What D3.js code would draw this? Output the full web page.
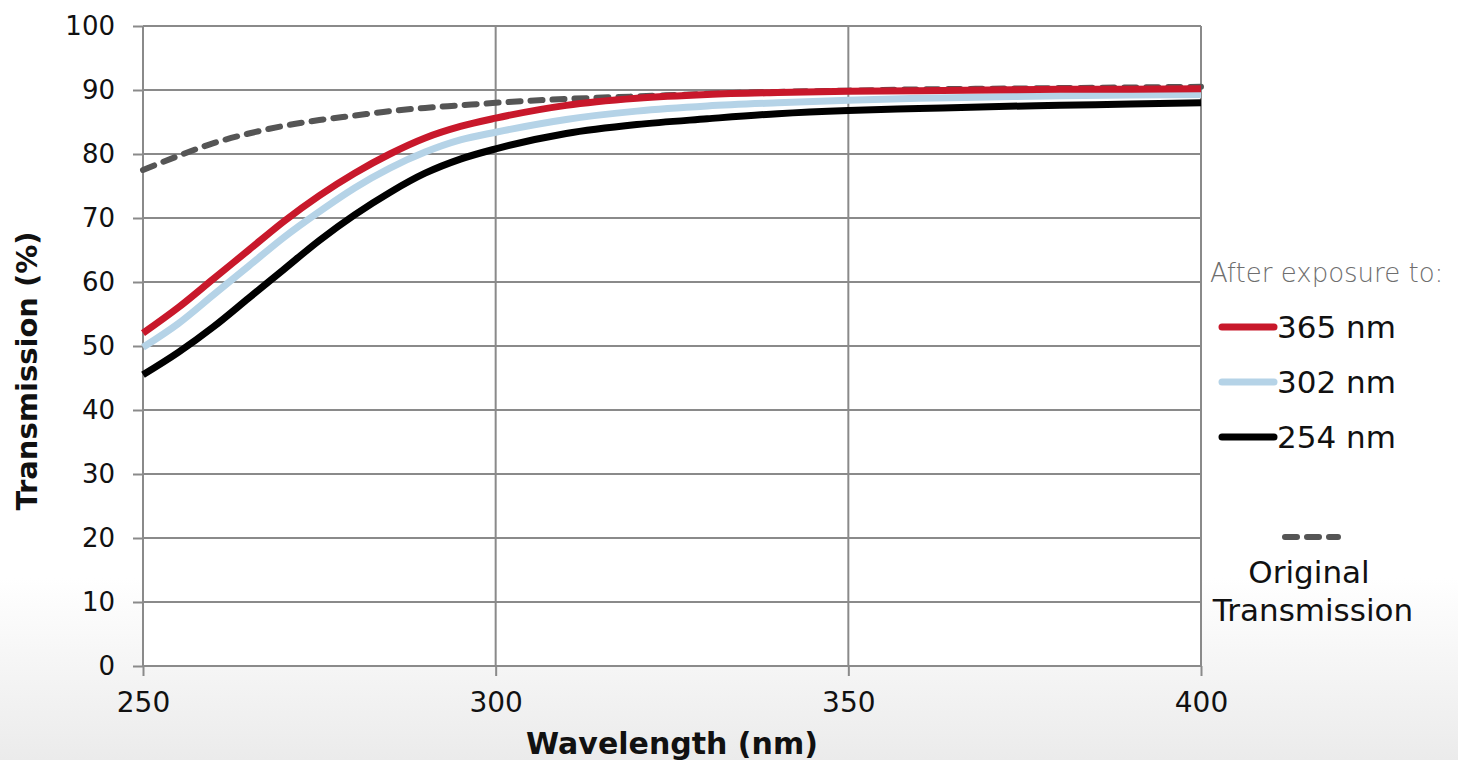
<!DOCTYPE html>
<html>
<head>
<meta charset="utf-8">
<script src="https://cdn.jsdelivr.net/npm/d3@7"></script>
<style>
  html, body { margin: 0; padding: 0; }
  body { width: 1458px; height: 760px; overflow: hidden; font-family: "DejaVu Sans", sans-serif; }
  .tick text { font-family: "DejaVu Sans", sans-serif; fill: #111; }
</style>
</head>
<body>
<div class="chart"></div>
<script>
// wavelengths (nm) and transmission (%)
const wavelengths = [250, 255, 260, 265, 270, 275, 280, 285, 290, 295, 300, 310, 320, 330, 340, 350, 360, 370, 380, 390, 400];
const after365 = [52, 56, 60.5, 65, 69.5, 73.5, 77, 80, 82.5, 84.3, 85.6, 87.6, 88.7, 89.3, 89.6, 89.8, 89.9, 90, 90.1, 90.1, 90.2];
const after302 = [49.8, 53.5, 58, 62.5, 67, 71, 74.7, 77.8, 80.3, 82.2, 83.4, 85.4, 86.7, 87.5, 88, 88.4, 88.7, 88.9, 89.1, 89.2, 89.3];
const after254 = [45.5, 49, 53, 57.5, 62, 66.5, 70.5, 74, 77, 79.2, 80.8, 83.2, 84.6, 85.5, 86.3, 86.8, 87.1, 87.4, 87.6, 87.8, 88];
const original = [77.5, 79.7, 81.7, 83.2, 84.4, 85.3, 86, 86.7, 87.2, 87.6, 88, 88.6, 89, 89.4, 89.7, 89.9, 90.1, 90.2, 90.3, 90.4, 90.5];

const xTicks = [250, 300, 350, 400];
const yTicks = [0, 10, 20, 30, 40, 50, 60, 70, 80, 90, 100];

const series = [
  { name: '254 nm', values: after254, color: '#000000' },
  { name: '302 nm', values: after302, color: '#b5d3e7' },
  { name: '365 nm', values: after365, color: '#c8182b' },
];

const width = 1458;
const height = 760;
const margin = { top: 26, right: 257, bottom: 94, left: 143 };
const chart_width = width - margin.left - margin.right;
const chart_height = height - margin.top - margin.bottom;

const svg = d3
  .select('.chart')
  .append('svg')
  .attr('width', width)
  .attr('height', height);

const grad = svg
  .append('defs')
  .append('linearGradient')
  .attr('id', 'bg')
  .attr('x1', 0).attr('y1', 0).attr('x2', 0).attr('y2', 1);
grad.append('stop').attr('offset', '0.76').attr('stop-color', '#ffffff');
grad.append('stop').attr('offset', '1').attr('stop-color', '#ebebeb');

svg.append('rect').attr('width', width).attr('height', height).attr('fill', 'url(#bg)');

const focus = svg
  .append('g')
  .attr('transform', 'translate(' + margin.left + ',' + margin.top + ')');

focus.append('rect').attr('width', chart_width).attr('height', chart_height).attr('fill', '#fff');

const x = d3.scaleLinear().domain([250, 400]).range([0, chart_width]);
const y = d3.scaleLinear().domain([0, 100]).range([chart_height, 0]);

// grid
focus
  .append('g')
  .selectAll('line')
  .data(yTicks)
  .enter()
  .append('line')
  .attr('x1', 0)
  .attr('x2', chart_width)
  .attr('y1', d => y(d))
  .attr('y2', d => y(d))
  .attr('stroke', '#8a8a8a')
  .attr('stroke-width', 2);

focus
  .append('g')
  .selectAll('line')
  .data(xTicks)
  .enter()
  .append('line')
  .attr('x1', d => x(d))
  .attr('x2', d => x(d))
  .attr('y1', 0)
  .attr('y2', chart_height)
  .attr('stroke', '#8a8a8a')
  .attr('stroke-width', 2);

const xAxis = d3.axisBottom(x).tickValues(xTicks).tickSize(10).tickPadding(16);
const yAxis = d3.axisLeft(y).tickValues(yTicks).tickSize(10).tickPadding(18);

const gx = focus
  .append('g')
  .attr('transform', 'translate(0,' + chart_height + ')')
  .call(xAxis);
const gy = focus.append('g').call(yAxis);

[gx, gy].forEach(g => {
  g.select('.domain').remove();
  g.selectAll('.tick line').attr('stroke', '#8a8a8a').attr('stroke-width', 2);
});
gx.selectAll('.tick text').attr('font-size', 28);
gy.selectAll('.tick text').attr('font-size', 26);

const line = d3
  .line()
  .x((d, i) => x(wavelengths[i]))
  .y(d => y(d))
  .curve(d3.curveMonotoneX);

focus
  .append('path')
  .datum(original)
  .attr('d', line)
  .attr('fill', 'none')
  .attr('stroke', '#555555')
  .attr('stroke-width', 6)
  .attr('stroke-dasharray', '12,10')
  .attr('stroke-linecap', 'round');

focus
  .selectAll('.series')
  .data(series)
  .enter()
  .append('path')
  .attr('class', 'series')
  .attr('d', d => line(d.values))
  .attr('fill', 'none')
  .attr('stroke', d => d.color)
  .attr('stroke-width', 7);

// axis titles
svg
  .append('text')
  .attr('x', 672)
  .attr('y', 754)
  .attr('text-anchor', 'middle')
  .attr('font-size', 30)
  .attr('font-weight', 'bold')
  .attr('fill', '#111')
  .text('Wavelength (nm)');

svg
  .append('text')
  .attr('transform', 'translate(37,371) rotate(-90)')
  .attr('text-anchor', 'middle')
  .attr('font-size', 29)
  .attr('font-weight', 'bold')
  .attr('fill', '#111')
  .text('Transmission (%)');

// legend
const legend = svg.append('g');

legend
  .append('text')
  .attr('x', 1210)
  .attr('y', 282)
  .attr('font-size', 26)
  .attr('fill', '#6e6e6e')
  .attr('font-weight', 300)
  .text('After exposure to:');

const legendItems = legend
  .selectAll('.item')
  .data(series.slice().reverse())
  .enter()
  .append('g')
  .attr('class', 'item')
  .attr('transform', (d, i) => 'translate(0,' + (327 + i * 55) + ')');

legendItems
  .append('line')
  .attr('x1', 1222)
  .attr('x2', 1274)
  .attr('stroke', d => d.color)
  .attr('stroke-width', 7)
  .attr('stroke-linecap', 'round');

legendItems
  .append('text')
  .attr('x', 1277)
  .attr('y', 11)
  .attr('font-size', 31)
  .attr('fill', '#111')
  .text(d => d.name);

legend
  .append('line')
  .attr('x1', 1285)
  .attr('x2', 1338)
  .attr('y1', 537)
  .attr('y2', 537)
  .attr('stroke', '#555555')
  .attr('stroke-width', 6)
  .attr('stroke-dasharray', '12,10')
  .attr('stroke-linecap', 'round');

legend
  .append('text')
  .attr('x', 1309)
  .attr('y', 583)
  .attr('text-anchor', 'middle')
  .attr('font-size', 31)
  .attr('fill', '#111')
  .text('Original');

legend
  .append('text')
  .attr('x', 1313)
  .attr('y', 621)
  .attr('text-anchor', 'middle')
  .attr('font-size', 31)
  .attr('fill', '#111')
  .text('Transmission');
</script>
</body>
</html>
